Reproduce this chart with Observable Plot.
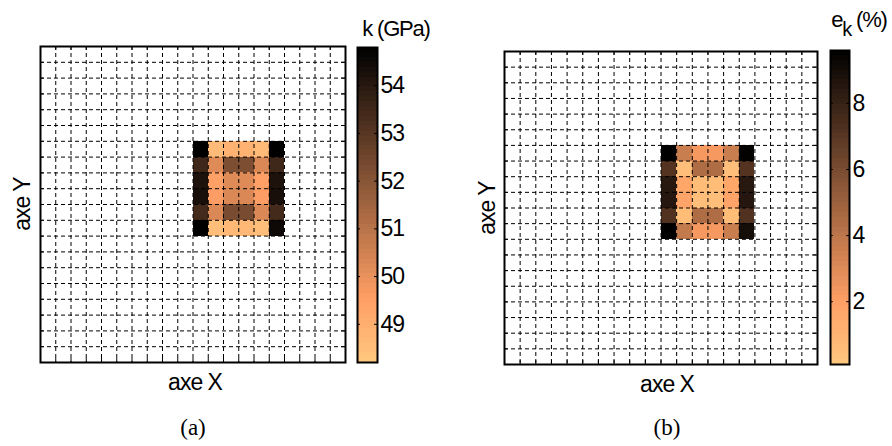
<!DOCTYPE html>
<html><head><meta charset="utf-8">
<script src="https://cdn.jsdelivr.net/npm/d3@7"></script>
<script src="https://cdn.jsdelivr.net/npm/@observablehq/plot@0.6"></script>
<style>
body{margin:0;background:#fff;}
#root{position:relative;width:892px;height:446px;overflow:hidden;font-family:"Liberation Sans",Arial,sans-serif;background:#fff;}
.lbl{position:absolute;font-size:23px;letter-spacing:-1px;color:#000;white-space:nowrap;line-height:1;transform:translate(-50%,-50%);}
.ttl{font-size:22px;letter-spacing:-1.2px;}
.rot{transform:translate(-50%,-50%) rotate(-90deg);}
.cap{position:absolute;font-family:"Liberation Serif","Times New Roman",serif;font-size:23px;color:#000;line-height:1;transform:translate(-50%,-50%);}
</style></head>
<body><div id="root"></div>
<script>
// ---- data ----
const gridN = 20;          // cells per side
const blockCol0 = 10;      // first coloured column (from left)
const blockRow0 = 6;       // first coloured row (from top)
const kValues = [
  [54.8, 48.6, 48.9, 48.9, 48.6, 54.8],
  [53.5, 50.2, 52.2, 52.2, 50.3, 53.5],
  [54.2, 49.5, 50.2, 50.2, 49.5, 54.2],
  [54.3, 49.6, 50.3, 50.3, 49.6, 54.3],
  [53.4, 50.3, 52.3, 52.3, 50.3, 53.4],
  [54.8, 48.5, 48.7, 48.7, 48.5, 54.5]
];
const ekValues = [
  [9.6, 3.6, 2.3, 2.3, 3.6, 9.5],
  [7.1, 0.5, 4.4, 4.4, 0.5, 7.1],
  [8.4, 1.7, 0.6, 0.6, 1.7, 8.4],
  [8.5, 1.8, 0.5, 0.5, 1.8, 8.5],
  [7.2, 0.6, 4.4, 4.4, 0.6, 7.2],
  [9.6, 3.8, 2.3, 2.3, 3.6, 9.0]
];
const kDomain = [48.2, 54.8];
const ekDomain = [0.1, 9.6];
const kTicks = [49, 50, 51, 52, 53, 54];
const ekTicks = [2, 4, 6, 8];

// ---- colormap: reversed MATLAB copper ----
function copperRev(t) {
  const x = 1 - Math.max(0, Math.min(1, t));
  const r = Math.min(1, 1.25 * x) * 255, g = 0.7812 * x * 255, b = 0.4975 * x * 255;
  return `rgb(${Math.round(r)},${Math.round(g)},${Math.round(b)})`;
}
const font = '"Liberation Sans", Arial, sans-serif';
const root = document.getElementById("root");

function place(el, left, top) {
  el.style.position = "absolute"; el.style.left = left + "px"; el.style.top = top + "px";
  root.appendChild(el);
}

function heatmap(values, domain, o) {
  const cells = [];
  values.forEach((row, i) => row.forEach((v, j) => cells.push({c: blockCol0 + j, r: blockRow0 + i, v})));
  const lines = d3.range(1, gridN);
  const tk = 0.25;
  return Plot.plot({
    width: o.width, height: o.height,
    marginLeft: o.mL, marginRight: o.mR, marginTop: o.mT, marginBottom: o.mB,
    style: {background: "transparent", fontFamily: font},
    x: {domain: [0, gridN], axis: null},
    y: {domain: [0, gridN], reverse: true, axis: null},
    color: {type: "linear", domain, interpolate: copperRev},
    marks: [
      Plot.rect(cells, {x1: "c", x2: d => d.c + 1, y1: "r", y2: d => d.r + 1, fill: "v", shapeRendering: "crispEdges"}),
      Plot.ruleX(lines, {stroke: "#000", strokeWidth: 1, strokeDasharray: "4,3"}),
      Plot.ruleY(lines, {stroke: "#000", strokeWidth: 1, strokeDasharray: "4,3"}),
      Plot.ruleX(lines, {y1: 0, y2: tk, stroke: "#000"}),
      Plot.ruleX(lines, {y1: gridN - tk, y2: gridN, stroke: "#000"}),
      Plot.ruleY(lines, {x1: 0, x2: tk, stroke: "#000"}),
      Plot.ruleY(lines, {x1: gridN - tk, x2: gridN, stroke: "#000"}),
      Plot.frame({stroke: "#000", strokeWidth: 2})
    ]
  });
}

function colorbar(domain, ticks, o) {
  const n = 64, [lo, hi] = domain;
  const stripes = d3.range(n).map(i => {
    const a = lo + (hi - lo) * i / n, b = lo + (hi - lo) * (i + 1) / n;
    return {a, b, m: (a + b) / 2};
  });
  return Plot.plot({
    width: o.width, height: o.height,
    marginLeft: o.mL, marginRight: o.mR, marginTop: o.mT, marginBottom: o.mB,
    style: {background: "transparent", fontFamily: font, fontSize: "23px", letterSpacing: "-1px"},
    x: {domain: [0, 1], axis: null},
    y: {domain, axis: null},
    color: {type: "linear", domain, interpolate: copperRev},
    marks: [
      Plot.rect(stripes, {x1: 0, x2: 1, y1: "a", y2: "b", fill: "m", shapeRendering: "crispEdges"}),
      Plot.ruleY(ticks, {x1: 0, x2: 0.15, stroke: "#000"}),
      Plot.ruleY(ticks, {x1: 0.85, x2: 1, stroke: "#000"}),
      Plot.text(ticks, {x: 1, y: d => d, text: d => String(d), dx: 3, textAnchor: "start", fontSize: 23, fill: "#000"}),
      Plot.frame({stroke: "#000", strokeWidth: 2})
    ]
  });
}

// left panel
place(heatmap(kValues, kDomain, {width: 350, height: 372, mL: 40, mR: 5, mT: 46, mB: 10}), 0, 0);
place(colorbar(kDomain, kTicks, {width: 110, height: 380, mL: 17, mR: 73, mT: 47, mB: 18}), 340, 0);
// right panel
place(heatmap(ekValues, ekDomain, {width: 358, height: 374, mL: 40, mR: 5, mT: 51, mB: 10}), 464, 0);
place(colorbar(ekDomain, ekTicks, {width: 72, height: 380, mL: 10, mR: 43, mT: 50, mB: 16}), 820, 0);

function label(html, cx, cy, cls) {
  const d = document.createElement("div");
  d.className = cls; d.innerHTML = html;
  d.style.left = cx + "px"; d.style.top = cy + "px";
  root.appendChild(d);
}
label("axe Y", 22, 204, "lbl rot");
label("axe X", 195, 382, "lbl");
label("k (GPa)", 396, 29, "lbl ttl");
label("axe Y", 487, 208, "lbl rot");
label("axe X", 667, 384, "lbl");
label('e<sub style="font-size:20px;vertical-align:-9px">k</sub>&nbsp;(%)', 859, 24, "lbl ttl");
label("(a)", 193, 427, "cap");
label("(b)", 667, 427, "cap");
</script>
</body></html>
